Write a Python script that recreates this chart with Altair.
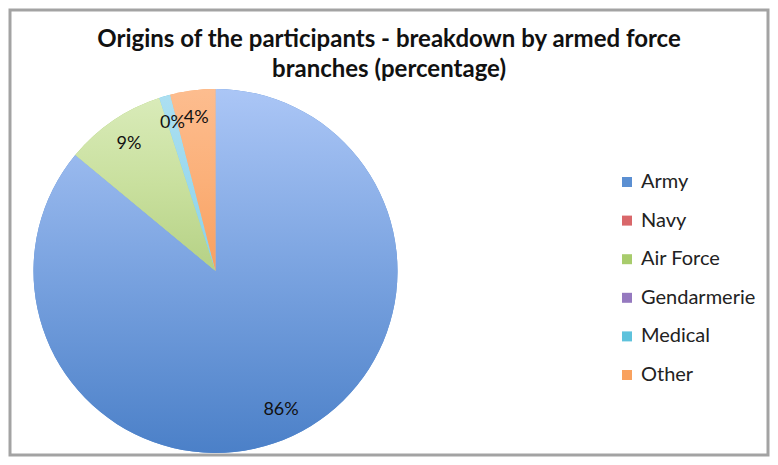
import altair as alt
import pandas as pd

# ---- data ----
categories = ["Army", "Navy", "Air Force", "Gendarmerie", "Medical", "Other"]
values = [86.0, 0.0, 9.0, 0.0, 1.0, 4.0]
labels = ["86%", "", "9%", "", "0%", "4%"]
legend_colors = ["#5b8fd2", "#d9676a", "#a8cc6c", "#9579bf", "#5ec2dc", "#f9a25f"]
title_lines = "Origins of the participants - breakdown by armed force\nbranches (percentage)"

gradients = {
    "Army": ["#abc6f6", "#7aa3e0", "#4b80c8"],
    "Navy": ["#e58a8c", "#d9676a", "#c9494d"],
    "Air Force": ["#d9ebb9", "#c9e09e", "#b5d185"],
    "Gendarmerie": ["#b39ad6", "#9579bf", "#7a5ea6"],
    "Medical": ["#acdff1", "#9bd9ee", "#8bd2ea"],
    "Other": ["#fdbd8f", "#fbb079", "#f8a060"],
}

df = pd.DataFrame({
    "branch": categories,
    "value": values,
    "label": labels,
    "order": list(range(len(categories))),
})

CX, CY, R = 205.5, 261, 182
FONT = "Lato"

base = alt.Chart(df).transform_window(
    cum="sum(value)", sort=[alt.SortField("order")], frame=[None, 0]
).transform_calculate(
    start="datum.cum - datum.value",
    mid="datum.cum - datum.value / 2",
)

theta_scale = alt.Scale(domain=[0, 100], range=[0, 6.283185307])

solid = base.mark_arc(outerRadius=R).encode(
    theta=alt.Theta("start:Q", scale=theta_scale),
    theta2="cum:Q",
    x=alt.value(CX),
    y=alt.value(CY),
    color=alt.Color(
        "branch:N",
        scale=alt.Scale(domain=categories, range=legend_colors),
        sort=categories,
        legend=alt.Legend(
            title=None,
            orient="none",
            legendX=607,
            legendY=162,
            padding=0,
            symbolType="square",
            symbolSize=100,
            symbolStrokeWidth=0,
            labelFont=FONT,
            labelFontSize=20,
            labelColor="#222222",
            labelOffset=4,
            rowPadding=18.6,
        ),
    ),
)

layers = [solid]
for cat in categories:
    g = gradients[cat]
    layers.append(
        base.transform_filter(alt.datum.branch == cat).mark_arc(
            outerRadius=R,
            color=alt.Gradient(
                gradient="linear",
                stops=[
                    alt.GradientStop(color=g[0], offset=0),
                    alt.GradientStop(color=g[1], offset=0.5),
                    alt.GradientStop(color=g[2], offset=1),
                ],
                x1=0, x2=0, y1=0, y2=1,
            ),
        ).encode(
            theta=alt.Theta("start:Q", scale=theta_scale),
            theta2="cum:Q",
            x=alt.value(CX),
            y=alt.value(CY),
        )
    )

text = base.transform_filter(alt.datum.label != "").mark_text(
    radius=154, font=FONT, fontSize=18, color="#111111"
).encode(
    theta=alt.Theta("mid:Q", scale=theta_scale),
    x=alt.value(CX),
    y=alt.value(CY),
    text="label:N",
)
layers.append(text)

title = alt.Chart(pd.DataFrame({"t": [title_lines]})).mark_text(
    font=FONT, fontSize=24, fontWeight="bold", color="#111111",
    lineBreak="\n", lineHeight=30, baseline="middle", align="center",
).encode(
    x=alt.value(379), y=alt.value(30), text="t:N"
)
layers.append(title)

chart = alt.layer(*layers).properties(
    width=758, height=445, padding=2,
    autosize=alt.AutoSizeParams(type="none"),
    background="white",
).configure_view(stroke="#a3a3a3", strokeWidth=3)

chart.save("out.html", embed_options={"renderer": "svg", "actions": False})
